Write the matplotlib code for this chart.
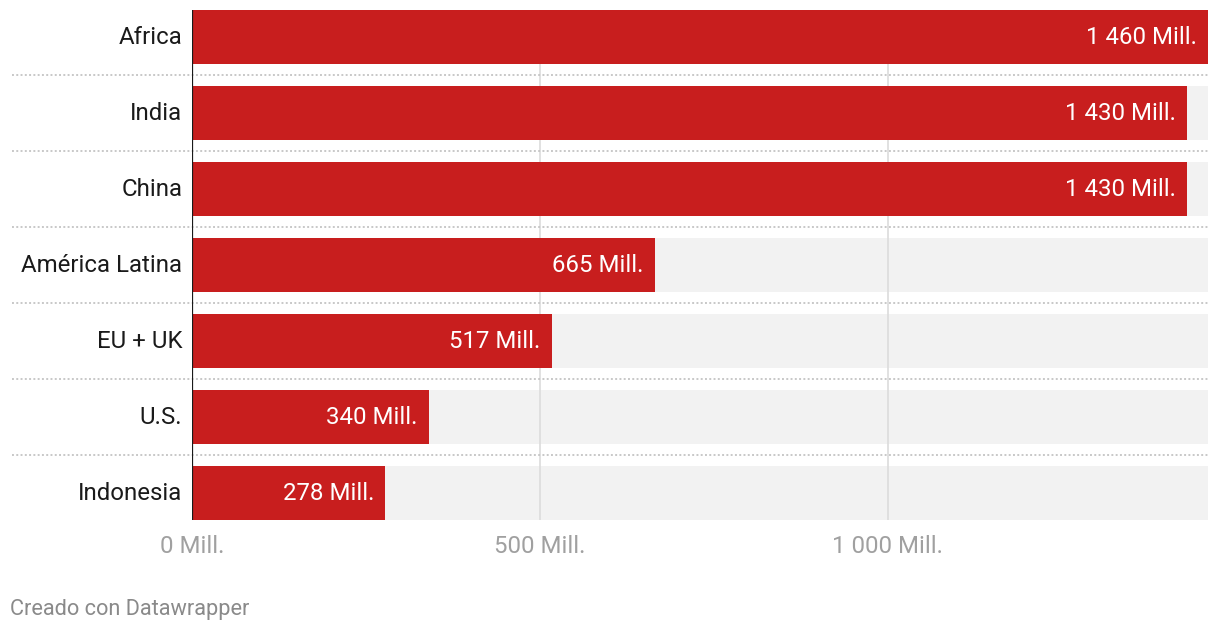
import matplotlib
matplotlib.use("Agg")
import matplotlib.pyplot as plt

# data
regions = ["Africa", "India", "China", "América Latina", "EU + UK", "U.S.", "Indonesia"]
population = [1460, 1430, 1430, 665, 517, 340, 278]
value_labels = ["1 460 Mill.", "1 430 Mill.", "1 430 Mill.", "665 Mill.",
                "517 Mill.", "340 Mill.", "278 Mill."]
x_ticks = [0, 500, 1000]
x_tick_labels = ["0 Mill.", "500 Mill.", "1 000 Mill."]
x_max = 1460

RED = "#c81e1e"
BG = "#f2f2f2"
FS = 17.3

plt.rcParams["font.family"] = ["Roboto", "DejaVu Sans"]

W, H = 1220, 632
fig = plt.figure(figsize=(W / 100, H / 100), dpi=100)
left, right, top, bottom = 192, 1208, 10, 520
ax = fig.add_axes([left / W, 1 - bottom / H, (right - left) / W, (bottom - top) / H])

n = len(regions)
ys = list(range(n))
bar_h = 54 / 76

# gray track behind each bar
ax.barh(ys, [x_max] * n, height=bar_h, color=BG, zorder=1)
# vertical gridlines above track, below bars
for xv in x_ticks[1:]:
    ax.axvline(xv, color="#dcdcdc", lw=1.2, zorder=2)
ax.barh(ys, population, height=bar_h, color=RED, zorder=3)

for y, v, lab in zip(ys, population, value_labels):
    ax.annotate(lab, (v, y), xytext=(-11, 0), textcoords="offset pixels",
                ha="right", va="center", color="white", fontsize=FS, zorder=4)

# dotted separators between rows, reaching under the labels
for y in ys[:-1]:
    ax.hlines(y + 0.5, -(left - 12) / (right - left), 1,
              transform=ax.get_yaxis_transform(), colors="#c8c8c8",
              lw=1.4, linestyles=(0, (1, 1.2)), clip_on=False, zorder=2)

ax.axvline(0, color="#1a1a1a", lw=1.6, zorder=5)

ax.set_xlim(0, x_max)
ax.set_ylim(n - 1 + 0.5 * bar_h, -0.5 * bar_h)
ax.set_yticks(ys, regions, fontsize=FS, color="#1a1a1a", va="center")
ax.set_xticks(x_ticks, x_tick_labels, fontsize=FS, color="#a0a0a0")
ax.tick_params(axis="y", length=0, pad=7)
ax.tick_params(axis="x", length=0, pad=10.5)
for s in ax.spines.values():
    s.set_visible(False)

fig.text(10 / W, 1 - 610 / H, "Creado con Datawrapper", fontsize=15.7,
         color="#8a8a8a", ha="left", va="center")

fig.savefig("out.png", dpi=100)
